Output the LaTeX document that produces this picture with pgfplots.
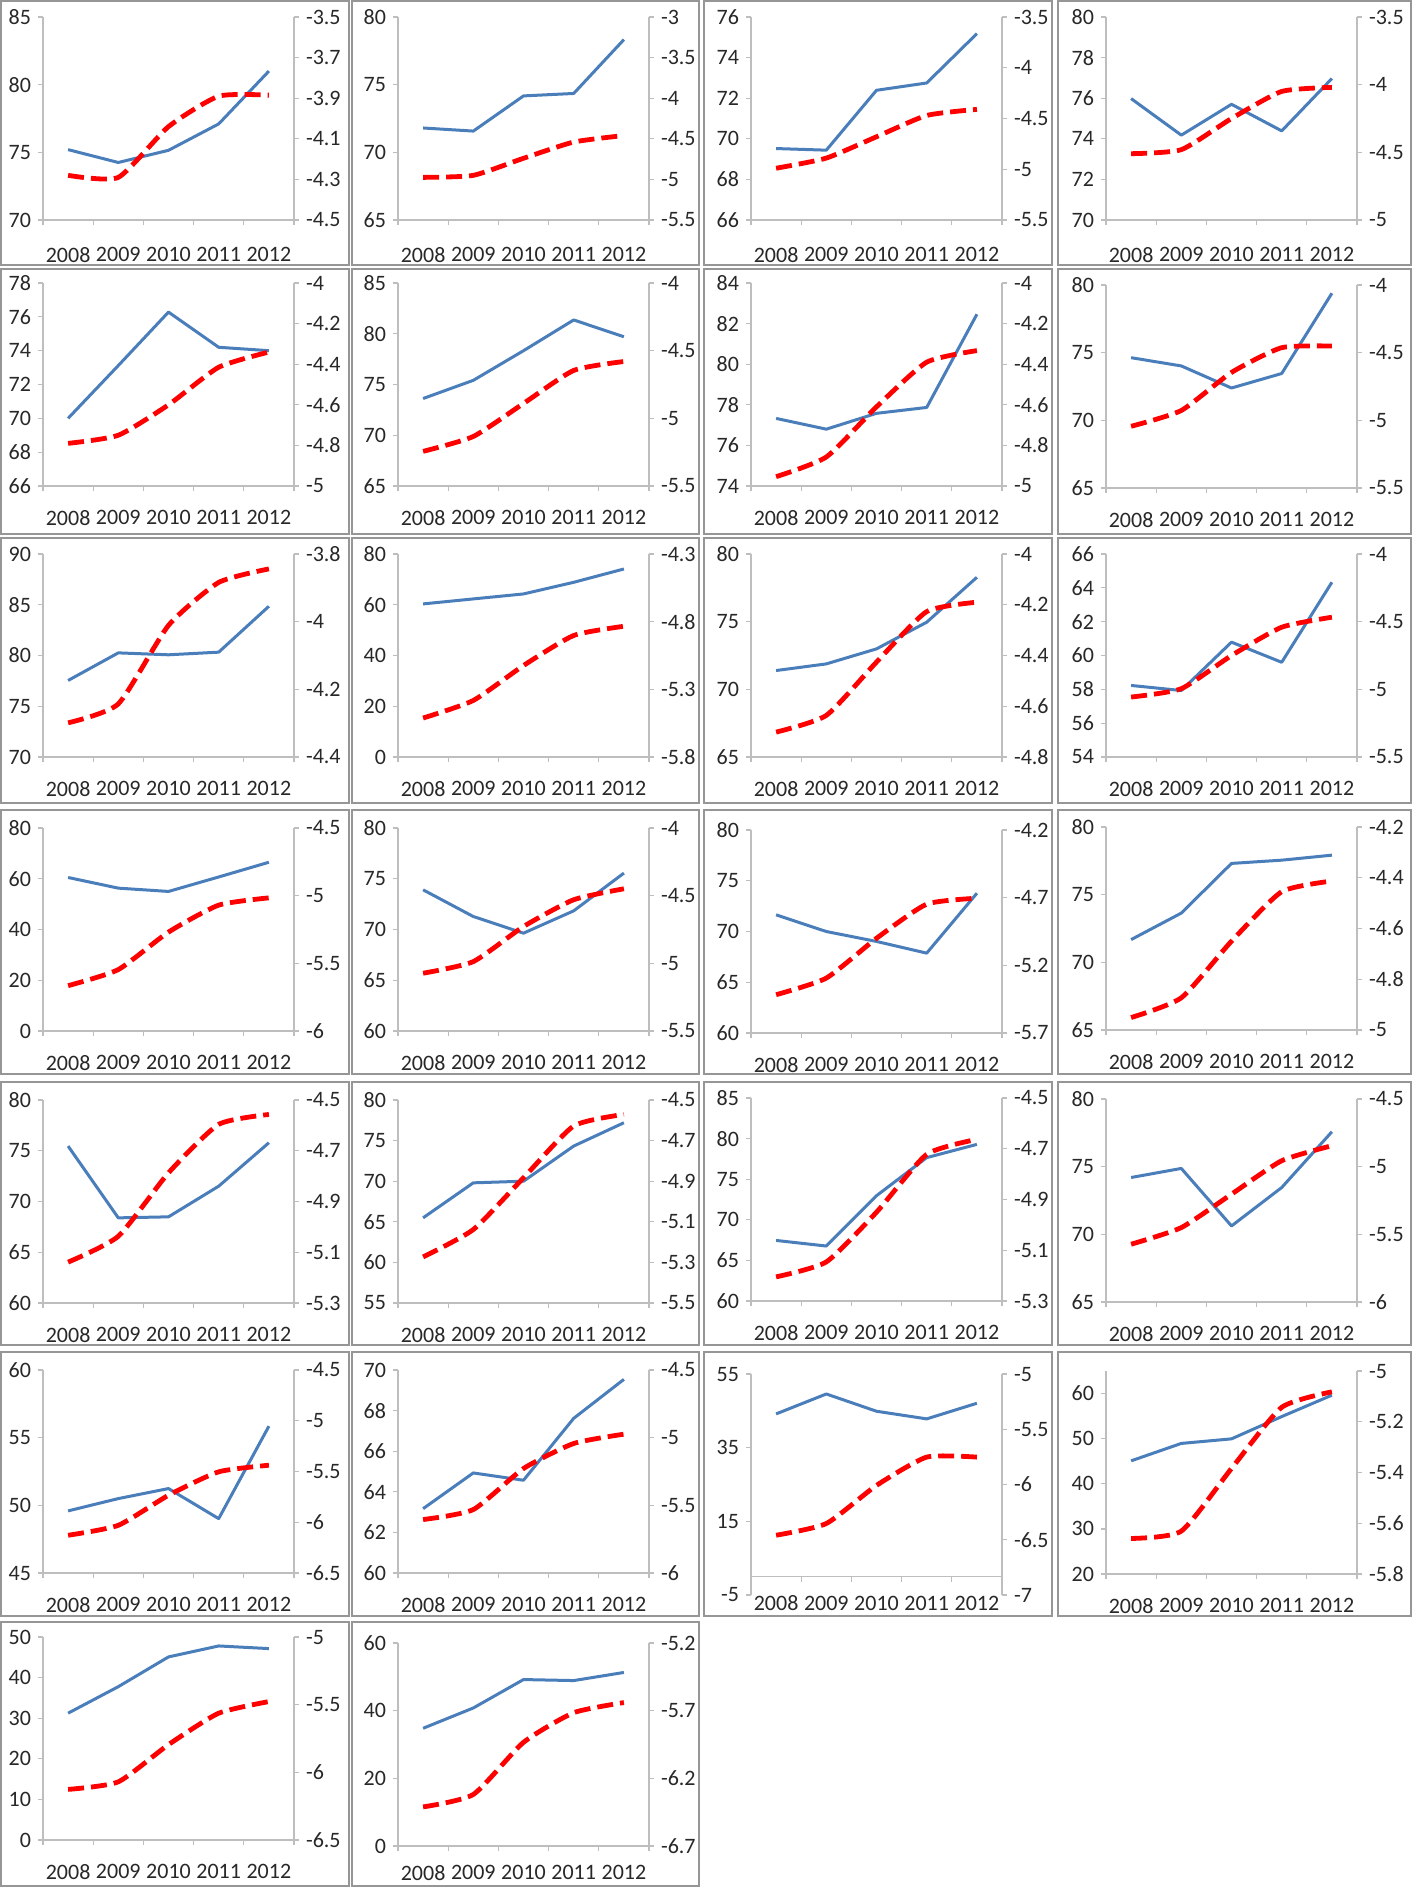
\documentclass[border=0pt]{standalone}
\usepackage{fontspec}
\setmainfont{Carlito}
\usepackage{pgfplots}
\pgfplotsset{compat=1.18}
\definecolor{axg}{RGB}{190,190,190}
\definecolor{frg}{RGB}{150,150,150}
\definecolor{txt}{RGB}{40,40,40}
\definecolor{bl}{RGB}{74,126,187}
\definecolor{rd}{RGB}{255,0,0}
\newcommand\lbl{\fontsize{11}{12}\selectfont}
\pgfplotsset{
 base/.style={scale only axis, anchor=north west, width=125.5pt, height=101.5pt,
   xmin=-0.5, xmax=4.5, axis line style={draw=axg, line width=0.6pt, -},
   tick style={draw=axg, line width=0.6pt}, major tick length=2.5pt, minor tick length=2.5pt,
   tick align=outside, tick label style={font=\lbl, text=txt},
   /pgf/number format/assume math mode=true, clip=false},
 lft/.style={base, axis y line*=left, axis x line*=bottom, xtick={0,1,2,3,4},
   xticklabels={2008,2009,2010,2011,2012}, minor xtick={-0.5,0.5,1.5,2.5,3.5,4.5},
   major x tick style={draw=none}, xticklabel style={yshift=-6pt}, hide obscured x ticks=false},
 rgt/.style={base, axis y line*=right, axis x line=none},
 bline/.style={color=bl, line width=1.5pt, line join=round},
 rline/.style={color=rd, line width=2.4pt, dash pattern=on 8pt off 3.5pt, smooth, tension=0.35},
}
\newcommand{\pnl}[6]{%
 \begin{axis}[lft, at={({#1*0.5pt},{-#2*0.5pt})}, #3]
 \addplot[bline] coordinates {#4};
 \end{axis}
 \begin{axis}[rgt, at={({#1*0.5pt},{-#2*0.5pt})}, #5]
 \addplot[rline] coordinates {#6};
 \end{axis}}
\newcommand{\frm}[4]{\draw[frg, line width=1.1pt] ({#1*0.5pt},{-#2*0.5pt}) rectangle ({#3*0.5pt},{-#4*0.5pt});}
\begin{document}
\begin{tikzpicture}
\path[use as bounding box, fill=white] (0,0) rectangle (708pt,-945pt);
% frames
\frm{1}{1}{349}{265}\frm{352}{1}{699}{265}\frm{704}{1}{1052}{265}\frm{1058}{1}{1411}{265}
\frm{1}{269}{349}{534}\frm{352}{269}{699}{534}\frm{704}{269}{1052}{534}\frm{1058}{269}{1411}{534}
\frm{1}{538}{349}{803}\frm{352}{538}{699}{803}\frm{704}{538}{1052}{803}\frm{1058}{538}{1411}{803}
\frm{1}{810}{349}{1074}\frm{352}{810}{699}{1074}\frm{704}{810}{1052}{1074}\frm{1058}{810}{1411}{1074}
\frm{1}{1082}{349}{1345}\frm{352}{1082}{699}{1345}\frm{704}{1082}{1052}{1345}\frm{1058}{1082}{1411}{1345}
\frm{1}{1352}{349}{1616}\frm{352}{1352}{699}{1616}\frm{704}{1352}{1052}{1616}\frm{1058}{1352}{1411}{1616}
\frm{1}{1622}{349}{1886}\frm{352}{1622}{699}{1886}
% row 1
\pnl{43}{17}{xticklabel style={yshift=-1.5pt},ymin=70,ymax=85,ytick={70,75,80,85}}{(0,75.2)(1,74.25)(2,75.15)(3,77.1)(4,81.0)}
 {ymin=-4.5,ymax=-3.5,ytick={-4.5,-4.3,-4.1,-3.9,-3.7,-3.5}}{(0,-4.28)(1,-4.29)(2,-4.04)(3,-3.89)(4,-3.885)}
\pnl{398}{17}{xticklabel style={yshift=-1.5pt},ymin=65,ymax=80,ytick={65,70,75,80}}{(0,71.8)(1,71.57)(2,74.17)(3,74.35)(4,78.33)}
 {ymin=-5.5,ymax=-3,ytick={-5.5,-5,-4.5,-4,-3.5,-3}}{(0,-4.975)(1,-4.95)(2,-4.74)(3,-4.54)(4,-4.46)}
\pnl{751}{17}{xticklabel style={yshift=-1.5pt},ymin=66,ymax=76,ytick={66,68,70,72,74,76}}{(0,69.52)(1,69.44)(2,72.39)(3,72.75)(4,75.18)}
 {ymin=-5.5,ymax=-3.5,ytick={-5.5,-5,-4.5,-4,-3.5}}{(0,-4.99)(1,-4.89)(2,-4.68)(3,-4.47)(4,-4.41)}
\pnl{1106}{17}{xticklabel style={yshift=-1.5pt},ymin=70,ymax=80,ytick={70,72,74,76,78,80}}{(0,75.98)(1,74.18)(2,75.70)(3,74.39)(4,76.97)}
 {ymin=-5,ymax=-3.5,ytick={-5,-4.5,-4,-3.5}}{(0,-4.51)(1,-4.48)(2,-4.25)(3,-4.05)(4,-4.02)}
% row 2
\pnl{43}{283}{ymin=66,ymax=78,ytick={66,68,70,72,74,76,78}}{(0,70.0)(1,73.12)(2,76.28)(3,74.2)(4,74.0)}
 {ymin=-5,ymax=-4,ytick={-5,-4.8,-4.6,-4.4,-4.2,-4}}{(0,-4.79)(1,-4.75)(2,-4.60)(3,-4.415)(4,-4.34)}
\pnl{398}{283}{ymin=65,ymax=85,ytick={65,70,75,80,85}}{(0,73.62)(1,75.41)(2,78.33)(3,81.36)(4,79.7)}
 {ymin=-5.5,ymax=-4,ytick={-5.5,-5,-4.5,-4}}{(0,-5.244)(1,-5.134)(2,-4.89)(3,-4.646)(4,-4.58)}
\pnl{751}{283}{ymin=74,ymax=84,ytick={74,76,78,80,82,84}}{(0,77.33)(1,76.8)(2,77.58)(3,77.87)(4,82.46)}
 {ymin=-5,ymax=-4,ytick={-5,-4.8,-4.6,-4.4,-4.2,-4}}{(0,-4.954)(1,-4.857)(2,-4.61)(3,-4.39)(4,-4.333)}
\pnl{1106}{285}{ymin=65,ymax=80,ytick={65,70,75,80}}{(0,74.63)(1,74.02)(2,72.39)(3,73.46)(4,79.39)}
 {ymin=-5.5,ymax=-4,ytick={-5.5,-5,-4.5,-4}}{(0,-5.044)(1,-4.927)(2,-4.646)(3,-4.463)(4,-4.451)}
% row 3
\pnl{43}{554}{ymin=70,ymax=90,ytick={70,75,80,85,90}}{(0,77.54)(1,80.26)(2,80.07)(3,80.33)(4,84.85)}
 {ymin=-4.4,ymax=-3.8,ytick={-4.4,-4.2,-4,-3.8}}{(0,-4.299)(1,-4.243)(2,-4.011)(3,-3.884)(4,-3.844)}
\pnl{398}{554}{ymin=0,ymax=80,ytick={0,20,40,60,80}}{(0,60.33)(1,62.3)(2,64.26)(3,68.85)(4,74.1)}
 {ymin=-5.8,ymax=-4.3,ytick={-5.8,-5.3,-4.8,-4.3}}{(0,-5.512)(1,-5.382)(2,-5.124)(3,-4.902)(4,-4.834)}
\pnl{751}{554}{ymin=65,ymax=80,ytick={65,70,75,80}}{(0,71.39)(1,71.88)(2,72.99)(3,74.96)(4,78.28)}
 {ymin=-4.8,ymax=-4,ytick={-4.8,-4.6,-4.4,-4.2,-4}}{(0,-4.702)(1,-4.636)(2,-4.426)(3,-4.227)(4,-4.19)}
\pnl{1106}{554}{ymin=54,ymax=66,ytick={54,56,58,60,62,64,66}}{(0,58.23)(1,57.93)(2,60.79)(3,59.6)(4,64.33)}
 {ymin=-5.5,ymax=-4,ytick={-5.5,-5,-4.5,-4}}{(0,-5.057)(1,-4.995)(2,-4.75)(3,-4.541)(4,-4.467)}
% row 4
\pnl{43}{828}{ymin=0,ymax=80,ytick={0,20,40,60,80}}{(0,60.5)(1,56.3)(2,55.0)(3,60.7)(4,66.5)}
 {ymin=-6,ymax=-4.5,ytick={-6,-5.5,-5,-4.5}}{(0,-5.665)(1,-5.546)(2,-5.269)(3,-5.07)(4,-5.016)}
\pnl{398}{828}{ymin=60,ymax=80,ytick={60,65,70,75,80}}{(0,73.91)(1,71.28)(2,69.64)(3,71.84)(4,75.56)}
 {ymin=-5.5,ymax=-4,ytick={-5.5,-5,-4.5,-4}}{(0,-5.073)(1,-4.987)(2,-4.728)(3,-4.53)(4,-4.449)}
\pnl{751}{830}{ymin=60,ymax=80,ytick={60,65,70,75,80}}{(0,71.64)(1,70.0)(2,69.02)(3,67.87)(4,73.77)}
 {ymin=-5.7,ymax=-4.2,ytick={-5.7,-5.2,-4.7,-4.2}}{(0,-5.417)(1,-5.294)(2,-5.0)(3,-4.748)(4,-4.704)}
\pnl{1106}{827}{ymin=65,ymax=80,ytick={65,70,75,80}}{(0,71.68)(1,73.64)(2,77.31)(3,77.55)(4,77.92)}
 {ymin=-5,ymax=-4.2,ytick={-5,-4.8,-4.6,-4.4,-4.2}}{(0,-4.951)(1,-4.873)(2,-4.65)(3,-4.455)(4,-4.413)}
% row 5
\pnl{43}{1100}{ymin=60,ymax=80,ytick={60,65,70,75,80}}{(0,75.46)(1,68.39)(2,68.49)(3,71.51)(4,75.79)}
 {ymin=-5.3,ymax=-4.5,ytick={-5.3,-5.1,-4.9,-4.7,-4.5}}{(0,-5.139)(1,-5.037)(2,-4.787)(3,-4.596)(4,-4.557)}
\pnl{398}{1100}{ymin=55,ymax=80,ytick={55,60,65,70,75,80}}{(0,65.49)(1,69.8)(2,70.0)(3,74.33)(4,77.2)}
 {ymin=-5.5,ymax=-4.5,ytick={-5.5,-5.3,-5.1,-4.9,-4.7,-4.5}}{(0,-5.273)(1,-5.138)(2,-4.883)(3,-4.628)(4,-4.571)}
\pnl{751}{1098}{ymin=60,ymax=85,ytick={60,65,70,75,80,85}}{(0,67.46)(1,66.77)(2,72.97)(3,77.66)(4,79.29)}
 {ymin=-5.3,ymax=-4.5,ytick={-5.3,-5.1,-4.9,-4.7,-4.5}}{(0,-5.205)(1,-5.146)(2,-4.95)(3,-4.722)(4,-4.663)}
\pnl{1106}{1099}{ymin=65,ymax=80,ytick={65,70,75,80}}{(0,74.2)(1,74.87)(2,70.62)(3,73.46)(4,77.58)}
 {ymin=-6,ymax=-4.5,ytick={-6,-5.5,-5,-4.5}}{(0,-5.573)(1,-5.45)(2,-5.203)(3,-4.956)(4,-4.845)}
% row 6
\pnl{43}{1370}{ymin=45,ymax=60,ytick={45,50,55,60}}{(0,49.59)(1,50.5)(2,51.24)(3,49.02)(4,55.85)}
 {ymin=-6.5,ymax=-4.5,ytick={-6.5,-6,-5.5,-5,-4.5}}{(0,-6.128)(1,-6.03)(2,-5.734)(3,-5.503)(4,-5.438)}
\pnl{398}{1370}{ymin=60,ymax=70,ytick={60,62,64,66,68,70}}{(0,63.17)(1,64.93)(2,64.57)(3,67.62)(4,69.54)}
 {ymin=-6,ymax=-4.5,ytick={-6,-5.5,-5,-4.5}}{(0,-5.605)(1,-5.531)(2,-5.228)(3,-5.043)(4,-4.974)}
\pnl{751}{1374}{height=110.5pt,axis x line*=middle,xticklabel style={yshift=2.4pt},ymin=-5,ymax=55,ytick={-5,15,35,55}}{(0,44.17)(1,49.58)(2,44.89)(3,42.82)(4,47.06)}
 {height=110.5pt,ymin=-7,ymax=-5,ytick={-7,-6.5,-6,-5.5,-5}}{(0,-6.459)(1,-6.353)(2,-6.008)(3,-5.752)(4,-5.752)}
\pnl{1106}{1371}{ymin=20,ymax=65,ytick={20,30,40,50,60}}{(0,45.09)(1,48.95)(2,49.96)(3,54.9)(4,59.64)}
 {ymin=-5.8,ymax=-5,ytick={-5.8,-5.6,-5.4,-5.2,-5}}{(0,-5.66)(1,-5.631)(2,-5.384)(3,-5.143)(4,-5.082)}
% row 7
\pnl{43}{1637}{ymin=0,ymax=50,ytick={0,10,20,30,40,50}}{(0,31.24)(1,37.77)(2,45.1)(3,47.8)(4,47.15)}
 {ymin=-6.5,ymax=-5,ytick={-6.5,-6,-5.5,-5}}{(0,-6.126)(1,-6.07)(2,-5.795)(3,-5.563)(4,-5.477)}
\pnl{398}{1643}{xticklabel style={yshift=2.5pt},ymin=0,ymax=60,ytick={0,20,40,60}}{(0,34.8)(1,40.8)(2,49.2)(3,48.9)(4,51.3)}
 {ymin=-6.7,ymax=-5.2,ytick={-6.7,-6.2,-5.7,-5.2}}{(0,-6.411)(1,-6.319)(2,-5.934)(3,-5.715)(4,-5.64)}
\end{tikzpicture}
\end{document}
